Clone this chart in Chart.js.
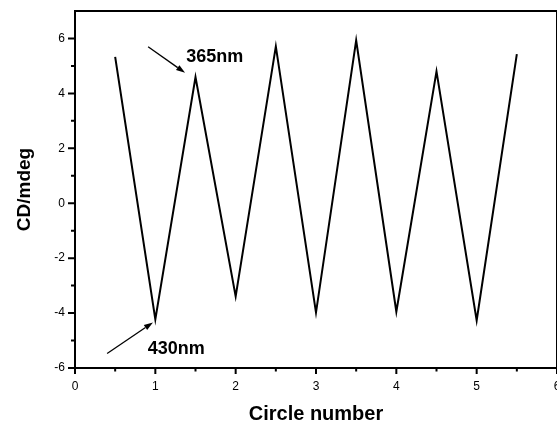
<!DOCTYPE html>
<html><head><meta charset="utf-8">
<script src="https://cdn.jsdelivr.net/npm/chart.js@4/dist/chart.umd.min.js"></script>
<style>html,body{margin:0;padding:0;background:#fff}canvas{display:block}</style>
</head><body>
<canvas id="c" width="557" height="421"></canvas>
<script>
// Data
const cycles = [0.5, 1, 1.5, 2, 2.5, 3, 3.5, 4, 4.5, 5, 5.5];
const cdValues = [5.33, -4.23, 4.59, -3.39, 5.71, -3.98, 5.93, -3.95, 4.80, -4.27, 5.43];
const xTickValues = [0, 1, 2, 3, 4, 5, 6];
const xMinorTicks = [0.5, 1.5, 2.5, 3.5, 4.5, 5.5];
const yTickValues = [-6, -4, -2, 0, 2, 4, 6];
const yMinorTicks = [-5, -3, -1, 1, 3, 5];
const noteLabels = ['365nm', '430nm'];
// annotation anchors in data units: text centre, arrow tail, arrow head
const noteText = [[1.74, 5.31], [1.26, -5.31]];
const noteFrom = [[0.91, 5.70], [0.40, -5.47]];
const noteTo = [[1.37, 4.75], [0.97, -4.34]];

const FONT = "'Liberation Sans', Arial, Helvetica, sans-serif";

const framePlugin = {
  id: 'frameTicks',
  afterDraw(chart) {
    const {ctx, chartArea: a, scales: {x, y}} = chart;
    ctx.save();
    ctx.strokeStyle = '#000';
    ctx.lineWidth = 2;
    ctx.strokeRect(a.left, a.top, a.right - a.left, a.bottom - a.top);
    ctx.beginPath();
    xTickValues.forEach(v => { const p = x.getPixelForValue(v); ctx.moveTo(p, a.bottom); ctx.lineTo(p, a.bottom + 6); });
    xMinorTicks.forEach(v => { const p = x.getPixelForValue(v); ctx.moveTo(p, a.bottom); ctx.lineTo(p, a.bottom + 3.5); });
    yTickValues.forEach(v => { const p = y.getPixelForValue(v); ctx.moveTo(a.left, p); ctx.lineTo(a.left - 7, p); });
    yMinorTicks.forEach(v => { const p = y.getPixelForValue(v); ctx.moveTo(a.left, p); ctx.lineTo(a.left - 4, p); });
    ctx.stroke();

    // annotations
    ctx.fillStyle = '#000';
    ctx.font = 'bold 18px ' + FONT;
    ctx.textAlign = 'center';
    ctx.textBaseline = 'middle';
    noteLabels.forEach((t, i) => {
      ctx.fillText(t, x.getPixelForValue(noteText[i][0]), y.getPixelForValue(noteText[i][1]));
      const x0 = x.getPixelForValue(noteFrom[i][0]), y0 = y.getPixelForValue(noteFrom[i][1]);
      const x1 = x.getPixelForValue(noteTo[i][0]), y1 = y.getPixelForValue(noteTo[i][1]);
      const ang = Math.atan2(y1 - y0, x1 - x0);
      const L = 9, W = 3;
      const bx = x1 - L * Math.cos(ang), by = y1 - L * Math.sin(ang);
      ctx.lineWidth = 1.3;
      ctx.beginPath(); ctx.moveTo(x0, y0); ctx.lineTo(bx, by); ctx.stroke();
      ctx.beginPath();
      ctx.moveTo(x1, y1);
      ctx.lineTo(bx + W * Math.sin(ang), by - W * Math.cos(ang));
      ctx.lineTo(bx - W * Math.sin(ang), by + W * Math.cos(ang));
      ctx.closePath(); ctx.fill();
    });
    ctx.restore();
  }
};

new Chart(document.getElementById('c'), {
  type: 'line',
  data: {
    datasets: [{
      data: cycles.map((v, i) => ({x: v, y: cdValues[i]})),
      borderColor: '#000',
      borderWidth: 2,
      pointRadius: 0,
      tension: 0,
      fill: false
    }]
  },
  options: {
    responsive: false,
    animation: false,
    devicePixelRatio: 1,
    layout: {padding: {top: 11, right: 0, left: 0, bottom: 0}},
    plugins: {legend: {display: false}, tooltip: {enabled: false}},
    scales: {
      x: {
        type: 'linear', min: 0, max: 6,
        afterBuildTicks: s => { s.ticks = xTickValues.map(v => ({value: v})); },
        afterFit: s => { s.height = 53; s.paddingLeft = 0; s.paddingRight = 0; },
        grid: {display: false, drawTicks: false, tickLength: 0},
        border: {display: false},
        ticks: {color: '#000', font: {family: FONT, size: 12}, padding: 11, maxRotation: 0, autoSkip: false},
        title: {display: true, text: 'Circle number', color: '#000',
          font: {family: FONT, size: 20, weight: 'bold', lineHeight: 1}, padding: {top: 0, bottom: -3}}
      },
      y: {
        type: 'linear', min: -6, max: 7,
        afterBuildTicks: s => { s.ticks = yTickValues.map(v => ({value: v})); },
        afterFit: s => { s.width = 75; s.paddingTop = 0; s.paddingBottom = 0; },
        grid: {display: false, drawTicks: false, tickLength: 0},
        border: {display: false},
        ticks: {color: '#000', font: {family: FONT, size: 12}, padding: 10, autoSkip: false},
        title: {display: true, text: 'CD/mdeg', color: '#000',
          font: {family: FONT, size: 19, weight: 'bold', lineHeight: 1}, padding: {top: 15, bottom: 0}}
      }
    }
  },
  plugins: [framePlugin]
});
</script>
</body></html>
